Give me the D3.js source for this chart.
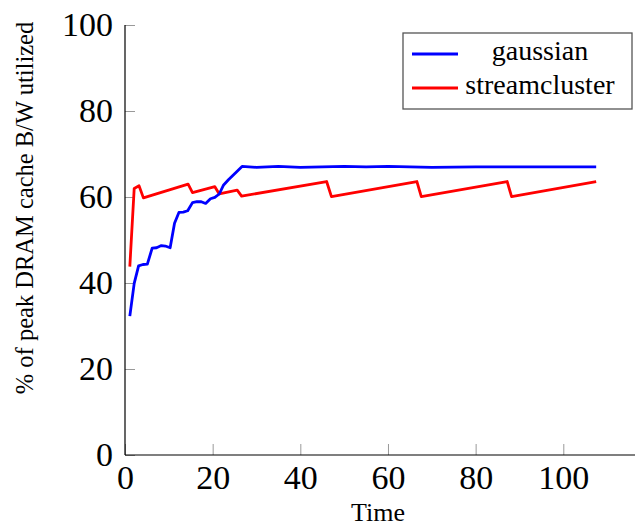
<!DOCTYPE html>
<html>
<head>
<meta charset="utf-8">
<script src="https://cdn.jsdelivr.net/npm/d3@7"></script>
<style>
  body { margin: 0; background: #fff; }
  text { font-family: "Liberation Serif", "DejaVu Serif", serif; fill: #000; }
</style>
</head>
<body>
<div id="chart"></div>
<script>
var w = 635;
var h = 528;

// values
var gaussTime = [1.1, 2.1, 3.1, 4.1, 5.1, 6.2, 7.2, 8.3, 9.2, 10.3, 11.3, 12.3, 13.3, 14.3, 15.4, 16.4, 17.4, 18.4, 19.5, 20.5, 21.5, 22.5, 23.6, 24.6, 25.6, 26.7, 30, 35, 40, 45, 50, 55, 60, 65, 70, 80, 90, 100, 107.5];
var gaussVal = [32.3, 39.9, 44.0, 44.3, 44.4, 48.1, 48.2, 48.7, 48.6, 48.2, 53.9, 56.4, 56.5, 56.8, 58.7, 58.9, 58.9, 58.5, 59.6, 59.9, 60.7, 62.8, 64.0, 65.0, 66.0, 67.1, 66.9, 67.1, 66.9, 67.0, 67.1, 67.0, 67.1, 67.0, 66.9, 67.0, 67.0, 67.0, 67.0];
var streamTime = [1.1, 2.1, 3.2, 4.2, 14.4, 15.4, 20.5, 21.5, 25.6, 26.6, 46.0, 47.1, 66.6, 67.6, 87.2, 88.2, 107.5];
var streamVal = [43.8, 62.0, 62.6, 59.8, 63.0, 61.0, 62.4, 60.7, 61.6, 60.2, 63.6, 60.1, 63.6, 60.1, 63.6, 60.1, 63.6];

var seriesNames = ['gaussian', 'streamcluster'];
var seriesColors = ['#0000ff', '#ff0000'];
var xTicks = [0, 20, 40, 60, 80, 100];
var yTicks = [0, 20, 40, 60, 80, 100];

var x = d3.scaleLinear().domain([0, 100]).range([125, 563.3]);
var y = d3.scaleLinear().domain([0, 100]).range([455, 25]);

var svg = d3.select('#chart').append('svg')
    .attr('width', w)
    .attr('height', h);

// axes
var xAxis = svg.append('g')
    .attr('transform', 'translate(0,455)')
    .call(d3.axisBottom(x).tickValues(xTicks).tickSize(-11).tickPadding(10));
xAxis.select('.domain').remove();
xAxis.selectAll('.tick line').attr('stroke', '#999');
xAxis.selectAll('.tick text')
    .style('font-family', '"Liberation Serif", serif')
    .style('font-size', '34px')
    .attr('fill', '#000');

var yAxis = svg.append('g')
    .attr('transform', 'translate(125,0)')
    .call(d3.axisLeft(y).tickValues(yTicks).tickSize(-10).tickPadding(12));
yAxis.select('.domain').remove();
yAxis.selectAll('.tick line').attr('stroke', '#999');
yAxis.selectAll('.tick text')
    .style('font-family', '"Liberation Serif", serif')
    .style('font-size', '34px')
    .attr('fill', '#000');

svg.append('line')
    .attr('x1', 125).attr('x2', w)
    .attr('y1', 455).attr('y2', 455)
    .attr('stroke', '#000').attr('stroke-width', 1.2);
svg.append('line')
    .attr('x1', 125).attr('x2', 125)
    .attr('y1', 25).attr('y2', 455)
    .attr('stroke', '#000').attr('stroke-width', 1.2);

// lines
var line = d3.line()
    .x(function(d) { return x(d[0]); })
    .y(function(d) { return y(d[1]); });

var gaussData = gaussTime.map(function(t, i) { return [t, gaussVal[i]]; });
var streamData = streamTime.map(function(t, i) { return [t, streamVal[i]]; });

svg.append('path')
    .datum(streamData)
    .attr('d', line)
    .attr('fill', 'none')
    .attr('stroke', seriesColors[1])
    .attr('stroke-width', 2.8)
    .attr('stroke-linejoin', 'round');

svg.append('path')
    .datum(gaussData)
    .attr('d', line)
    .attr('fill', 'none')
    .attr('stroke', seriesColors[0])
    .attr('stroke-width', 2.8)
    .attr('stroke-linejoin', 'round');

// labels
svg.append('text')
    .attr('x', 378)
    .attr('y', 521)
    .attr('text-anchor', 'middle')
    .style('font-size', '26px')
    .text('Time');

svg.append('text')
    .attr('transform', 'translate(33,208) rotate(-90)')
    .attr('text-anchor', 'middle')
    .style('font-size', '24.5px')
    .text('% of peak DRAM cache B/W utilized');

// legend
var legend = svg.append('g');
legend.append('rect')
    .attr('x', 403).attr('y', 33)
    .attr('width', 229).attr('height', 76)
    .attr('fill', '#fff')
    .attr('stroke', '#555')
    .attr('stroke-width', 1.3);

var rowY = [54, 88];
seriesNames.forEach(function(name, i) {
    legend.append('line')
        .attr('x1', 412).attr('x2', 458)
        .attr('y1', rowY[i]).attr('y2', rowY[i])
        .attr('stroke', seriesColors[i])
        .attr('stroke-width', 2.8);
    legend.append('text')
        .attr('x', 540)
        .attr('y', rowY[i] + 6)
        .attr('text-anchor', 'middle')
        .style('font-size', '28px')
        .text(name);
});
</script>
</body>
</html>
